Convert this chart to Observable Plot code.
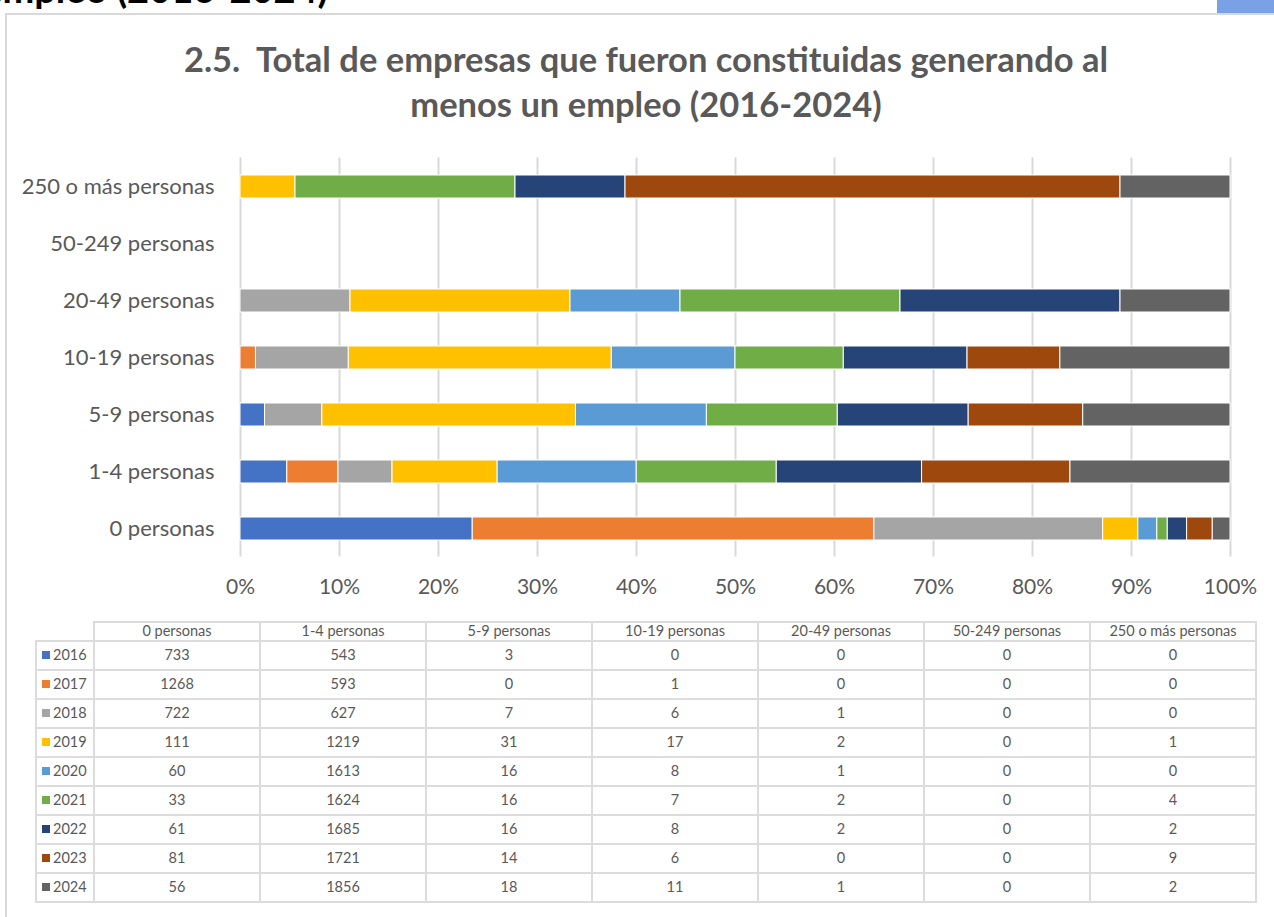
<!DOCTYPE html>
<html>
<head>
<meta charset="utf-8">
<script src="https://cdn.jsdelivr.net/npm/d3@7"></script>
<script src="https://cdn.jsdelivr.net/npm/@observablehq/plot@0.6"></script>
<style>
  html, body { margin: 0; padding: 0; background: #fff; }
  #page { position: relative; width: 1274px; height: 917px; overflow: hidden; font-family: Lato, "Open Sans", sans-serif; }
  #heading { position: absolute; right: calc(1274px - 328px); top: -35px; font-weight: bold; font-size: 38px; color: #000; white-space: nowrap; }
  #bluebox { position: absolute; left: 1217px; top: 0; width: 57px; height: 13px; background: #7aa0e6; }
  #frame { position: absolute; left: 5px; top: 13px; width: 1300px; height: 1000px; border-left: 2px solid #d9d9d9; border-top: 2px solid #d9d9d9; box-sizing: border-box; }
  .title { position: absolute; left: 0; width: 1292px; text-align: center; font-weight: bold; font-size: 34.5px; color: #595959; white-space: nowrap; line-height: 1; }
  #chart { position: absolute; left: 0; top: 140px; }
  #tbl { position: absolute; left: 35px; top: 621px; border-collapse: collapse; table-layout: fixed; font-size: 14.5px; color: #595959; }
  #tbl td { border: 2px solid #dcdcdc; text-align: center; padding: 0; height: 27px; line-height: 1; }
  #tbl tr.hdr td { height: 17px; }
  #tbl td.corner { border-top: none; border-left: none; }
  #tbl td.leg { text-align: left; padding-left: 5px; white-space: nowrap; }
  .sw { display: inline-block; width: 8px; height: 8px; margin-right: 3px; vertical-align: 1px; }
</style>
</head>
<body>
<div id="page">
  <div id="heading">empleo (2016-2024)</div>
  <div id="bluebox"></div>
  <div id="frame"></div>
  <div class="title" style="top:42px">2.5.&nbsp; Total de empresas que fueron constituidas generando al</div>
  <div class="title" style="top:87px">menos un empleo (2016-2024)</div>
  <div id="chart"></div>
  <table id="tbl"></table>
</div>
<script>
// Categories (company size by number of employees)
const sizes = ["0 personas", "1-4 personas", "5-9 personas", "10-19 personas", "20-49 personas", "50-249 personas", "250 o más personas"];
// Series (years)
const years = ["2016", "2017", "2018", "2019", "2020", "2021", "2022", "2023", "2024"];
const yearColors = ["#4472C4", "#ED7D31", "#A5A5A5", "#FFC000", "#5B9BD5", "#70AD47", "#264478", "#9E480E", "#636363"];
// Values per year, in the order of `sizes`
const v2016 = [733, 543, 3, 0, 0, 0, 0];
const v2017 = [1268, 593, 0, 1, 0, 0, 0];
const v2018 = [722, 627, 7, 6, 1, 0, 0];
const v2019 = [111, 1219, 31, 17, 2, 0, 1];
const v2020 = [60, 1613, 16, 8, 1, 0, 0];
const v2021 = [33, 1624, 16, 7, 2, 0, 4];
const v2022 = [61, 1685, 16, 8, 2, 0, 2];
const v2023 = [81, 1721, 14, 6, 0, 0, 9];
const v2024 = [56, 1856, 18, 11, 1, 0, 2];
// Axis ticks
const xTicks = [0, 0.1, 0.2, 0.3, 0.4, 0.5, 0.6, 0.7, 0.8, 0.9, 1];

const series = [v2016, v2017, v2018, v2019, v2020, v2021, v2022, v2023, v2024];
const tidy = [];
years.forEach((yr, i) => sizes.forEach((s, j) => tidy.push({year: yr, size: s, value: series[i][j]})));

const fmtPct = d3.format(".0%");
const chart = Plot.plot({
  width: 1274,
  height: 470,
  marginLeft: 240,
  marginRight: 44,
  marginTop: 17.5,
  marginBottom: 53.5,
  style: {fontFamily: "Lato, sans-serif", fontSize: "20px", color: "#595959", background: "transparent", overflow: "visible"},
  x: {domain: [0, 1]},
  y: {domain: sizes.slice().reverse(), paddingInner: 0.6, paddingOuter: 0.3},
  color: {domain: years, range: yearColors},
  marks: [
    Plot.gridX(xTicks, {stroke: "#d9d9d9", strokeOpacity: 1, strokeWidth: 2}),
    Plot.barX(tidy.filter(d => d.value > 0), Plot.stackX({offset: "normalize", x: "value", y: "size", fill: "year", stroke: "white", strokeWidth: 1})),
    Plot.axisX(xTicks, {tickSize: 0, tickPadding: 22, tickFormat: fmtPct, label: null, fontSize: 21}),
    Plot.axisY({tickSize: 0, tickPadding: 26, label: null, fontSize: 22})
  ]
});
document.getElementById("chart").appendChild(chart);

// Data table under the chart
const tbl = document.getElementById("tbl");
const colgroup = document.createElement("colgroup");
[58, 166, 166, 166, 166, 166, 166, 166].forEach(w => { const c = document.createElement("col"); c.style.width = w + "px"; colgroup.appendChild(c); });
tbl.appendChild(colgroup);
const hdr = document.createElement("tr");
hdr.className = "hdr";
const corner = document.createElement("td"); corner.className = "corner"; hdr.appendChild(corner);
sizes.forEach(s => { const td = document.createElement("td"); td.textContent = s; hdr.appendChild(td); });
tbl.appendChild(hdr);
years.forEach((yr, i) => {
  const tr = document.createElement("tr");
  const leg = document.createElement("td"); leg.className = "leg";
  const sw = document.createElement("span"); sw.className = "sw"; sw.style.background = yearColors[i];
  leg.appendChild(sw); leg.appendChild(document.createTextNode(yr));
  tr.appendChild(leg);
  series[i].forEach(v => { const td = document.createElement("td"); td.textContent = v; tr.appendChild(td); });
  tbl.appendChild(tr);
});
</script>
</body>
</html>
